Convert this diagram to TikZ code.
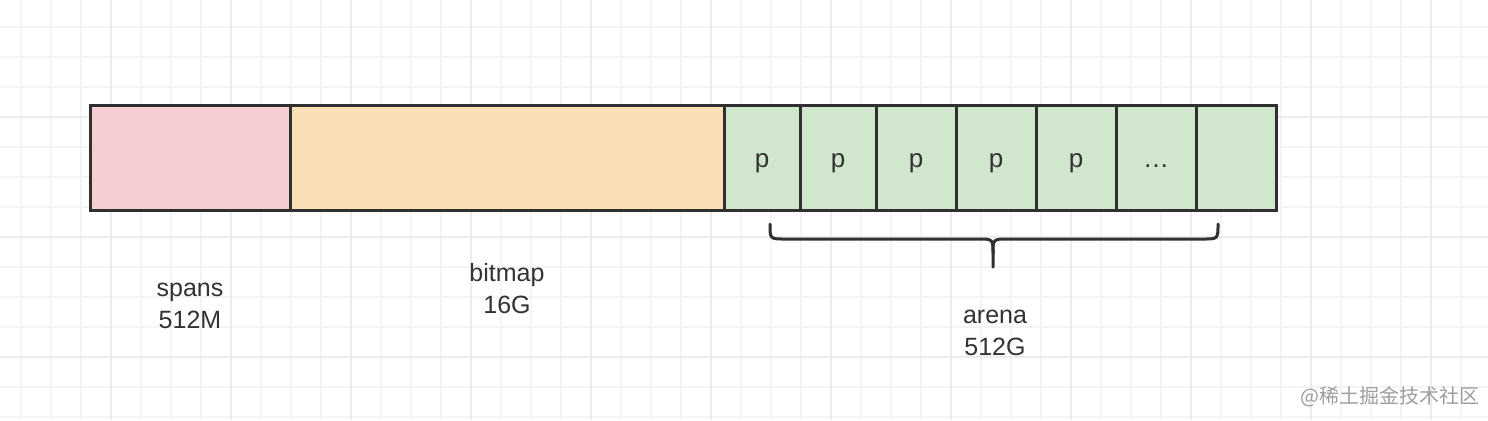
\documentclass[tikz,border=0pt]{standalone}
\usepackage{fontspec}
\setmainfont{Liberation Sans}
\newfontfamily\cjkfont{Noto Sans CJK SC}
\usetikzlibrary{positioning}
\definecolor{gridminor}{RGB}{244,244,244}
\definecolor{gridmajor}{RGB}{235,235,235}
\definecolor{edgedark}{RGB}{48,48,48}
\definecolor{textdark}{RGB}{51,51,51}
\definecolor{spanspink}{RGB}{245,206,210}
\definecolor{bitmaporange}{RGB}{249,223,182}
\definecolor{arenagreen}{RGB}{208,230,205}

\begin{document}
\begin{tikzpicture}[
        x=0.5pt, y=-0.5pt,
        node distance=0pt,
        cell/.style={rectangle, draw=edgedark, line width=1.5pt, inner sep=0pt,
            outer sep=0pt, minimum height=52.5pt, text=textdark,
            text height=9.5pt, text depth=0pt,
            font=\fontsize{13}{15}\selectfont},
        page/.style={cell, fill=arenagreen, minimum width=40pt},
        caption/.style={align=center, text=textdark, inner sep=0pt,
            font=\fontsize{12.5}{16}\selectfont},
        brace/.style={draw=edgedark, line width=1.5pt, line cap=round, line join=round}
    ]
        \useasboundingbox (0,0) rectangle (1488,420);
        \fill[white] (0,0) rectangle (1488,420);
        % background grid
        \foreach \gx in {21,51,...,1490} \draw[gridminor, line width=0.6pt] (\gx,0) -- (\gx,420);
        \foreach \gy in {27,57,...,420} \draw[gridminor, line width=0.6pt] (0,\gy) -- (1488,\gy);
        \foreach \gx in {111,231,...,1490} \draw[gridmajor, line width=0.7pt] (\gx,0) -- (\gx,420);
        \foreach \gy in {117,237,357} \draw[gridmajor, line width=0.7pt] (0,\gy) -- (1488,\gy);

        \node[cell, fill=spanspink, minimum width=100pt, anchor=north west] (spans) at (90,105) {};
        \node[cell, fill=bitmaporange, minimum width=217pt, right=of spans] (bitmap) {};
        \node[page, minimum width=38pt, right=of bitmap] (p1) {p};
        \node[page, minimum width=38pt, right=of p1] (p2) {p};
        \foreach \i in {3,4,5} {
            \pgfmathtruncatemacro{\prev}{\i-1}
            \node[page, right=of p\prev] (p\i) {p};
        }
        \node[page, right=of p5] (p6) {\ldots};
        \node[page, right=of p6] (p7) {};

        % brace under the arena pages
        \coordinate (braceL) at (770,224);
        \coordinate (braceR) at (1218,224);
        \coordinate (braceTip) at (993,267);
        \draw[brace] (braceL) .. controls (770,239) .. (785,239) -- (978,239)
            .. controls (993,239) .. (993,254) -- (braceTip);
        \draw[brace] (993,254) .. controls (993,239) .. (1008,239) -- (1203,239)
            .. controls (1218,239) .. (braceR);

        \node[caption] (spanslabel) at (190,306) {spans\\512M};
        \node[caption] (bitmaplabel) at (507,289) {bitmap\\16G};
        \node[caption] (arenalabel) at (995,333) {arena\\512G};

        \node[text=black!38, inner sep=0pt, font=\cjkfont\fontsize{10}{12}\selectfont] (mark) at (1390,397) {@稀土掘金技术社区};
    \end{tikzpicture}
\end{document}
